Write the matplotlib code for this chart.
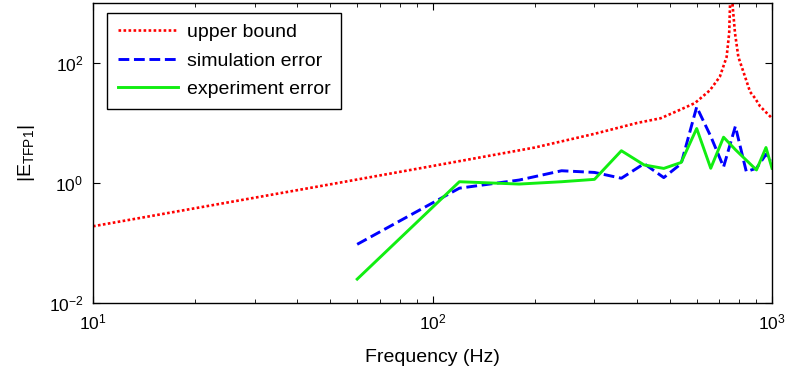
import matplotlib
matplotlib.use('Agg')
import matplotlib.pyplot as plt
from matplotlib.ticker import LogLocator, NullLocator

# upper bound curve
freq_ub = [10, 20, 50, 100, 200, 300, 400, 470, 536, 593, 656, 702, 735,
           748, 752, 759, 766, 778, 796, 833, 862, 891, 922, 1000]
upper_bound = [0.19, 0.38, 0.95, 1.92, 3.9, 6.6, 10, 12, 16.6, 21.5, 35, 59, 126,
               316, 870, 5000, 870, 316, 126, 59, 33, 26, 19, 12]

# measured / simulated error points
freq = [60, 120, 180, 240, 300, 360, 420, 480, 540, 600, 660, 720, 780,
        840, 900, 960, 1000]
sim_error = [0.095, 0.82, 1.12, 1.6, 1.5, 1.2, 2.1, 1.23, 2.1, 18.5, 6.0, 1.85, 8.8,
             1.55, 1.76, 3.0, 2.45]
exp_error = [0.025, 1.05, 0.96, 1.05, 1.15, 3.45, 2.0, 1.75, 2.2, 8.1, 1.76, 5.8, 3.6,
             2.4, 1.65, 3.9, 1.76]

plt.rcParams['font.family'] = ['Liberation Sans', 'DejaVu Sans']
plt.rcParams['mathtext.fontset'] = 'custom'
plt.rcParams['mathtext.rm'] = 'Liberation Sans'
plt.rcParams['mathtext.it'] = 'Liberation Sans'
plt.rcParams['mathtext.default'] = 'regular'
plt.rcParams['axes.unicode_minus'] = False

fig = plt.figure(figsize=(7.85, 3.71), dpi=100)
ax = fig.add_axes([93/785, 68/371, 679/785, 300/371])

ax.plot(freq_ub, upper_bound, color='red', ls=(0, (1, 0.9)), lw=1.9, label='upper bound')
ax.plot(freq, sim_error, color='blue', ls='--', lw=2.1, label='simulation error')
ax.plot(freq, exp_error, color='#11ee11', ls='-', lw=2.1, label='experiment error')

ax.set_xscale('log')
ax.set_yscale('log')
ax.set_xlim(10, 1000)
ax.set_ylim(1e-2, 1e3)
ax.set_yticks([1e-2, 1, 1e2])
ax.yaxis.set_minor_locator(NullLocator())
ax.xaxis.set_minor_locator(LogLocator(subs=range(2, 10)))

ax.tick_params(which='both', direction='in', top=True, right=True, labelsize=12.5)
ax.tick_params(which='major', length=5)
ax.tick_params(which='minor', length=3)
ax.tick_params(axis='x', pad=7)
ax.tick_params(axis='y', pad=7)
for s in ax.spines.values():
    s.set_linewidth(1.0)

ax.set_xlabel('Frequency (Hz)', fontsize=14, labelpad=12)
ax.set_ylabel(r'$|E_{TFP1}|$', fontsize=14, labelpad=8)

leg = ax.legend(loc='upper left', bbox_to_anchor=(0.0206, 0.9667), borderaxespad=0,
                fontsize=14, handlelength=3.1, handletextpad=0.45, labelspacing=0.55,
                borderpad=0.55, fancybox=False, edgecolor='black', framealpha=1)
leg.get_frame().set_linewidth(1.0)

fig.savefig('out.png', dpi=100)
